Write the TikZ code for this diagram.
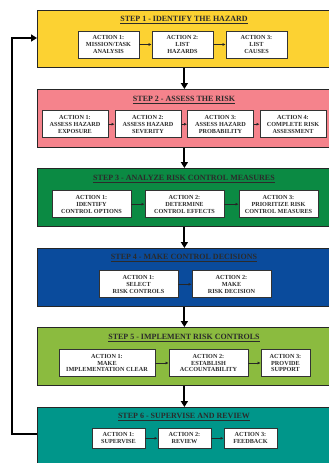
\documentclass[tikz,border=0pt]{standalone}
\usepackage{fontspec}
\setmainfont{Liberation Serif}
\usetikzlibrary{arrows.meta}
\definecolor{cyellow}{HTML}{FCD232}
\definecolor{cpink}{HTML}{F5838C}
\definecolor{cgreen}{HTML}{0B8A43}
\definecolor{cblue}{HTML}{0A4B9C}
\definecolor{clime}{HTML}{8BBB3F}
\definecolor{cteal}{HTML}{00968A}
\definecolor{ctext}{HTML}{2B2B2B}
\tikzset{
  stepbox/.style={draw=black!85, line width=0.8pt, anchor=north west, minimum width=294pt, inner sep=0pt},
  steptitle/.style={font=\fontsize{8}{9}\selectfont\bfseries, text=ctext, inner sep=0pt},
  actbox/.style={draw=black!80, fill=white, line width=0.9pt, inner sep=0pt, align=center,
    font=\fontsize{6.2}{6.9}\selectfont\bfseries, text=ctext},
  actarrow/.style={draw=black!85, line width=0.7pt, -{Latex[length=3pt,width=3pt]}},
  steparrow/.style={draw=black, line width=2pt, -{Triangle[length=6pt,width=7pt]}},
  backarrow/.style={draw=black, line width=1.8pt, -{Triangle[length=6pt,width=7pt]}}
}
\begin{document}
\begin{tikzpicture}[x=1pt,y=-1pt]
\useasboundingbox (0,0) rectangle (329,463);
\clip (0,0) rectangle (329,463);
\fill[white] (0,0) rectangle (329,463);

% step boxes
\node[stepbox, fill=cyellow, minimum height=57pt] (s1) at (37,10) {};
\node[stepbox, fill=cpink,   minimum height=58pt] (s2) at (37,89) {};
\node[stepbox, fill=cgreen,  minimum height=58pt] (s3) at (37,168) {};
\node[stepbox, fill=cblue,   minimum height=58pt] (s4) at (37,248) {};
\node[stepbox, fill=clime,   minimum height=58pt] (s5) at (37,327) {};
\node[stepbox, fill=cteal,   minimum height=66pt] (s6) at (37,407) {};

% titles
\node[steptitle] (t1) at (184,20) {\underline{STEP 1 - IDENTIFY THE HAZARD}};
\node[steptitle] (t2) at (184,100) {\underline{STEP 2 - ASSESS THE RISK}};
\node[steptitle] (t3) at (184,179.3) {\underline{STEP 3 - ANALYZE RISK CONTROL MEASURES}};
\node[steptitle] (t4) at (184,258.3) {\underline{STEP 4 - MAKE CONTROL DECISIONS}};
\node[steptitle] (t5) at (184,338.3) {\underline{STEP 5 - IMPLEMENT RISK CONTROLS}};
\node[steptitle] (t6) at (184,417.3) {\underline{STEP 6 - SUPERVISE AND REVIEW}};

% step 1 actions
\node[actbox, minimum width=61pt, minimum height=27pt] (a11) at (108.5,44.5) {ACTION 1:\\MISSION/TASK\\ANALYSIS};
\node[actbox, minimum width=61pt, minimum height=27pt] (a12) at (182.5,44.5) {ACTION 2:\\LIST\\HAZARDS};
\node[actbox, minimum width=61pt, minimum height=27pt] (a13) at (256.5,44.5) {ACTION 3:\\LIST\\CAUSES};
\draw[actarrow] (a11) -- (a12);
\draw[actarrow] (a12) -- (a13);

% step 2 actions
\node[actbox, minimum width=66pt, minimum height=27pt] (a21) at (75,124.2) {ACTION 1:\\ASSESS HAZARD\\EXPOSURE};
\node[actbox, minimum width=66pt, minimum height=27pt] (a22) at (148,124.2) {ACTION 2:\\ASSESS HAZARD\\SEVERITY};
\node[actbox, minimum width=66pt, minimum height=27pt] (a23) at (220.5,124.2) {ACTION 3:\\ASSESS HAZARD\\PROBABILITY};
\node[actbox, minimum width=66pt, minimum height=27pt] (a24) at (293,124.2) {ACTION 4:\\COMPLETE RISK\\ASSESSMENT};
\draw[actarrow] (a21) -- (a22);
\draw[actarrow] (a22) -- (a23);
\draw[actarrow] (a23) -- (a24);

% step 3 actions
\node[actbox, minimum width=79pt, minimum height=27pt] (a31) at (91.5,204.2) {ACTION 1:\\IDENTIFY\\CONTROL OPTIONS};
\node[actbox, minimum width=79pt, minimum height=27pt] (a32) at (184.5,204.2) {ACTION 2:\\DETERMINE\\CONTROL EFFECTS};
\node[actbox, minimum width=79pt, minimum height=27pt] (a33) at (278.5,204.2) {ACTION 3:\\PRIORITIZE RISK\\CONTROL MEASURES};
\draw[actarrow] (a31) -- (a32);
\draw[actarrow] (a32) -- (a33);

% step 4 actions
\node[actbox, minimum width=79pt, minimum height=27pt] (a41) at (138.5,284.3) {ACTION 1:\\SELECT\\RISK CONTROLS};
\node[actbox, minimum width=79pt, minimum height=27pt] (a42) at (231.5,284.3) {ACTION 2:\\MAKE\\RISK DECISION};
\draw[actarrow] (a41) -- (a42);

% step 5 actions
\node[actbox, minimum width=96pt, minimum height=27pt] (a51) at (107,363) {ACTION 1:\\MAKE\\IMPLEMENTATION CLEAR};
\node[actbox, minimum width=79pt, minimum height=27pt] (a52) at (208.5,363) {ACTION 2:\\ESTABLISH\\ACCOUNTABILITY};
\node[actbox, minimum width=49pt, minimum height=27pt] (a53) at (285.5,363) {ACTION 3:\\PROVIDE\\SUPPORT};
\draw[actarrow] (a51) -- (a52);
\draw[actarrow] (a52) -- (a53);

% step 6 actions
\node[actbox, minimum width=53pt, minimum height=20pt] (a61) at (118.5,438.3) {ACTION 1:\\SUPERVISE};
\node[actbox, minimum width=53pt, minimum height=20pt] (a62) at (184.5,438.3) {ACTION 2:\\REVIEW};
\node[actbox, minimum width=53pt, minimum height=20pt] (a63) at (250.5,438.3) {ACTION 3:\\FEEDBACK};
\draw[actarrow] (a61) -- (a62);
\draw[actarrow] (a62) -- (a63);

% arrows between steps
\draw[steparrow] (s1.south) -- (s2.north);
\draw[steparrow] (s2.south) -- (s3.north);
\draw[steparrow] (s3.south) -- (s4.north);
\draw[steparrow] (s4.south) -- (s5.north);
\draw[steparrow] (s5.south) -- (s6.north);

% feedback loop
\coordinate (fb1) at (37,434);
\coordinate (fb2) at (37,38);
\draw[backarrow] (fb1 -| s6.west) -- (12,434) -- (12,38) -- (fb2 -| s1.west);
\end{tikzpicture}
\end{document}
